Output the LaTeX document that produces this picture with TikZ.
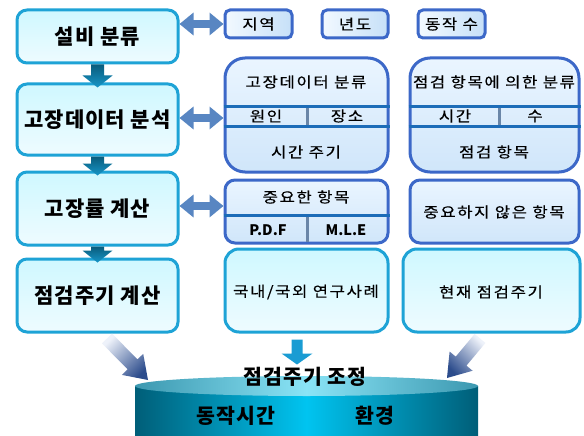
\documentclass[tikz,border=0pt]{standalone}
\usepackage{fontspec}
\setmainfont{Noto Sans CJK KR}
\newfontfamily\krw[LetterSpace=11,FakeStretch=1.15,FakeBold=0.4]{Noto Sans CJK KR}
\newfontfamily\krb[LetterSpace=5]{Noto Sans CJK KR}
\usetikzlibrary{arrows.meta,calc}
\definecolor{cyB}{HTML}{1EA3D6}
\definecolor{blB}{HTML}{3C68C8}
\definecolor{dvB}{HTML}{1C6CB8}
\definecolor{dvV}{HTML}{6A86A8}
\definecolor{lcTop}{HTML}{CFF8FF}
\definecolor{lcBot}{HTML}{EEFBFF}
\definecolor{bbTop}{HTML}{EAF5FF}
\definecolor{bbBot}{HTML}{D0E6FA}
\definecolor{sbL}{HTML}{F2F9FF}
\definecolor{sbR}{HTML}{C6E0F8}
\definecolor{dblc}{HTML}{5886C2}
\definecolor{dnTop}{HTML}{0A5C7C}
\definecolor{dnBot}{HTML}{1696C8}
\definecolor{dnMid}{HTML}{1A9CD3}
\definecolor{dgL}{HTML}{EEF2FA}
\definecolor{dgD}{HTML}{2C4C8C}
\definecolor{cylE}{HTML}{005E78}
\definecolor{cylM}{HTML}{00C4F0}
\definecolor{topE}{HTML}{3C98B0}
\definecolor{topM}{HTML}{8AE4F6}
% fat arrow: #1 tail, #2 tip, #3 head length, #4 shaft half width, #5 head half width, #6 style, #7 name
\newcommand\fatarrow[7]{%
  \coordinate (#7s) at ($(#2)!#3!(#1)$);
  \shade[#6] ($(#1)!#4!90:(#2)$) -- ($(#7s)!#4!90:(#2)$) -- ($(#7s)!#5!90:(#2)$)
    -- (#2) -- ($(#7s)!#5!-90:(#2)$) -- ($(#7s)!#4!-90:(#2)$) -- ($(#1)!#4!-90:(#2)$) -- cycle;}
\begin{document}
\begin{tikzpicture}[x=1pt,y=-1pt,
  lbox/.style={draw=cyB, line width=3pt, rounded corners=10pt, top color=lcTop, bottom color=lcBot,
     font=\krb\bfseries\fontsize{21}{23}\selectfont, inner sep=0pt},
  cbox/.style={draw=cyB, line width=3pt, rounded corners=14pt, top color=lcTop, bottom color=lcBot, inner sep=0pt},
  sbox/.style={draw=blB, line width=3pt, rounded corners=5pt, left color=sbL, right color=sbR,
     font=\krw\fontsize{14.5}{16}\selectfont, inner sep=0pt},
  bbox/.style={draw=blB, line width=3pt, rounded corners=20pt, top color=bbTop, bottom color=bbBot, inner sep=0pt},
  mbox/.style={draw=blB, line width=3pt, rounded corners=10pt, top color=bbTop, bottom color=bbBot, inner sep=0pt},
  txt/.style={font=\krw\fontsize{14.5}{16}\selectfont, inner sep=0pt},
  btxt/.style={font=\bfseries\fontsize{14.5}{16}\selectfont, inner sep=0pt},
  ctxt/.style={font=\krb\bfseries\fontsize{20.5}{22}\selectfont, inner sep=0pt},
  divh/.style={draw=dvB, line width=3pt},
  divv/.style={draw=dvV, line width=3pt},
  dbl/.style={draw=dblc, line width=8pt, {Triangle[width=22pt,length=14pt]}-{Triangle[width=22pt,length=14pt]}},
  dnarrow/.style={top color=dnTop, bottom color=dnBot},
  dnflat/.style={top color=dnMid, bottom color=dnMid},
  dgl/.style={top color=dgL, bottom color=dgD, shading angle=45},
  dgr/.style={top color=dgL, bottom color=dgD, shading angle=-45}
]
\useasboundingbox (0,0) rectangle (584,436);
\fill[white] (0,0) rectangle (584,436);

% cylinder
\shade[left color=cylE, right color=cylE, middle color=cylM] (135,386) rectangle (478,437);
\shade[left color=topE, right color=topE, middle color=topM] (306.5,386) ellipse [x radius=171.5, y radius=10];
\coordinate (cylL) at (148,380);
\coordinate (cylR) at (447,378);
\node[ctxt] (adj) at (305,377) {점검주기 조정};
\node[ctxt] (optime) at (236,416) {동작시간};
\node[ctxt] (env) at (375,416) {환경};

% left column
\node[lbox, minimum width=161pt, minimum height=53pt] (b1) at (97.5,36.5) {설비 분류};
\node[lbox, minimum width=161pt, minimum height=71pt] (b2) at (97.5,119.5) {고장데이터 분석};
\node[lbox, minimum width=161pt, minimum height=73pt] (b3) at (97.5,208.5) {고장률 계산};
\node[lbox, minimum width=161pt, minimum height=73pt] (b4) at (97.5,295.5) {점검주기 계산};

% top small boxes
\node[sbox, minimum width=67pt, minimum height=28pt] (t1) at (258.5,24) {지역};
\node[sbox, minimum width=66pt, minimum height=28pt] (t2) at (355,24) {년도};
\node[sbox, minimum width=67pt, minimum height=28pt] (t3) at (451.5,24) {동작 수};

% big blue boxes
\node[bbox, minimum width=163pt, minimum height=114pt] (m1) at (306.5,115) {};
\draw[divh] (m1.west |- 0,106) -- (m1.east |- 0,106);
\draw[divh] (m1.west |- 0,126) -- (m1.east |- 0,126);
\draw[divv] (307,107.5) -- (307,124.5);
\node[txt] (m1a) at (306,82) {고장데이터 분류};
\node[txt] (m1b) at (266,116) {원인};
\node[txt] (m1c) at (347,116) {장소};
\node[txt] (m1d) at (306,152) {시간 주기};

\node[bbox, minimum width=169pt, minimum height=114pt] (m2) at (494.5,115) {};
\draw[divh] (m2.west |- 0,106) -- (m2.east |- 0,106);
\draw[divh] (m2.west |- 0,126) -- (m2.east |- 0,126);
\draw[divv] (499,107.5) -- (499,124.5);
\node[txt] (m2a) at (494,82) {점검 항목에 의한 분류};
\node[txt] (m2b) at (455,116) {시간};
\node[txt] (m2c) at (535,116) {수};
\node[txt] (m2d) at (494,152) {점검 항목};

\node[mbox, minimum width=163pt, minimum height=63pt] (m3) at (306.5,211.5) {};
\draw[divh] (m3.west |- 0,215) -- (m3.east |- 0,215);
\draw[divv] (307,216.5) -- (307,241.5);
\node[txt] (m3a) at (306,197) {중요한 항목};
\node[btxt] (m3b) at (268,230) {P.D.F};
\node[btxt] (m3c) at (346,230) {M.L.E};

\node[mbox, minimum width=169pt, minimum height=63pt] (m4) at (494.5,211.5) {};
\node[txt] (m4a) at (494,212) {중요하지 않은 항목};

% cyan bottom boxes
\node[cbox, minimum width=163pt, minimum height=83pt] (c1) at (306.5,290.5) {};
\node[txt] (c1a) at (306,292) {국내/국외 연구사례};
\node[cbox, minimum width=177pt, minimum height=83pt] (c2) at (491.5,290.5) {};
\node[txt] (c2a) at (491,292) {현재 점검주기};

% double arrows
\draw[dbl] (b1.east |- t1.west) -- (t1.west);
\draw[dbl] (b2.east |- 0,118) -- (m1.west |- 0,118);
\draw[dbl] (b3.east |- 0,206) -- (m3.west |- 0,206);

% down arrows
\coordinate (d1b) at ($(b2.north)+(0,5)$);
\fatarrow{b1.south}{d1b}{12pt}{6.5pt}{15pt}{dnarrow}{d1}
\coordinate (d2b) at ($(b3.north)+(0,5)$);
\fatarrow{b2.south}{d2b}{12pt}{6.5pt}{15pt}{dnarrow}{d2}
\coordinate (d3b) at ($(b4.north)+(0,5)$);
\fatarrow{b3.south}{d3b}{12pt}{6.5pt}{15pt}{dnarrow}{d3}
\coordinate (ca) at ($(c1.south)+(-9.5,6)$);
\coordinate (cb) at ($(c1.south)+(-9.5,31)$);
\fatarrow{ca}{cb}{11pt}{5.5pt}{15.5pt}{dnflat}{d4}
% diagonal arrows
\coordinate (dl1) at ($(b4.south)+(9.5,5)$);
\fatarrow{dl1}{cylL}{22pt}{7pt}{15pt}{dgl}{d5}
\coordinate (dr1) at ($(c2.south)+(-11.5,5)$);
\fatarrow{dr1}{cylR}{22pt}{7pt}{15pt}{dgr}{d6}
\end{tikzpicture}
\end{document}
